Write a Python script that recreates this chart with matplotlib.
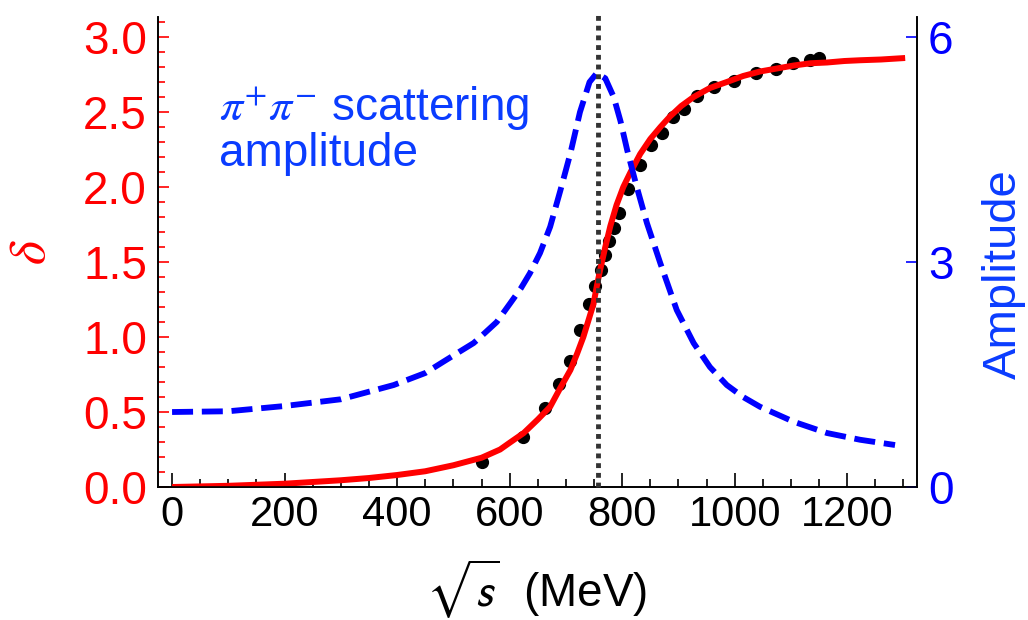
import numpy as np
import matplotlib.pyplot as plt
from matplotlib.ticker import MultipleLocator, FormatStrFormatter

plt.rcParams['font.family'] = ['Liberation Sans', 'DejaVu Sans']
plt.rcParams['mathtext.fontset'] = 'stix'

# fase delta (curva roja)
e_fit = [0, 100, 200, 300, 350, 400, 450, 500, 550, 583, 600, 625, 650, 672, 690, 708,
         720, 731, 740, 749, 755, 761, 770, 779, 790, 802, 815, 832, 850, 868, 885,
         905, 927, 956, 986, 1015, 1045, 1075, 1105, 1135, 1164, 1195, 1223, 1260, 1303]
delta_fit = [0.0, 0.008, 0.022, 0.045, 0.06, 0.08, 0.105, 0.145, 0.195, 0.25, 0.295,
             0.36, 0.45, 0.535, 0.66, 0.78, 0.89, 1.00, 1.11, 1.22, 1.34, 1.45, 1.60,
             1.74, 1.88, 2.00, 2.10, 2.22, 2.32, 2.40, 2.47, 2.54, 2.60, 2.66, 2.70,
             2.74, 2.77, 2.79, 2.81, 2.825, 2.83, 2.84, 2.845, 2.85, 2.86]

# datos experimentales
e_data = [551, 624, 663, 687, 708, 725, 741, 752, 762, 769, 777, 786, 794, 811, 832,
          852, 871, 891, 910, 933, 963, 998, 1038, 1073, 1103, 1133, 1149]
delta_data = [0.17, 0.335, 0.53, 0.69, 0.84, 1.05, 1.22, 1.34, 1.45, 1.55, 1.64, 1.73,
              1.83, 1.99, 2.15, 2.28, 2.36, 2.47, 2.52, 2.61, 2.67, 2.71, 2.76, 2.79,
              2.83, 2.85, 2.86]

# amplitud (curva azul)
e_amp = [0, 100, 200, 300, 394, 450, 482, 510, 536, 548, 577, 601, 620, 636, 654, 672,
         690, 708, 725, 742, 755, 770, 785, 797, 809, 826, 844, 868, 897, 927, 956, 986,
         1015, 1045, 1105, 1164, 1223, 1285]
amp = [1.00, 1.01, 1.08, 1.17, 1.36, 1.52, 1.67, 1.80, 1.92, 2.00, 2.20, 2.45, 2.65,
       2.85, 3.12, 3.47, 3.95, 4.45, 5.00, 5.40, 5.52, 5.45, 5.20, 4.88, 4.49, 4.00,
       3.52, 2.98, 2.36, 1.92, 1.60, 1.36, 1.20, 1.07, 0.87, 0.72, 0.63, 0.56]

m_peak = 757

red = '#ff0000'
blue = '#0000ff'
txt_blue = '#0a3cff'

fig = plt.figure(figsize=(10.28, 6.2), dpi=100)
ax = fig.add_axes([0.1537, 0.2145, 0.7383, 0.758])
ax2 = ax.twinx()

ax.plot(e_data, delta_data, 'o', color='black', markersize=8.5, zorder=2)
ax.plot(e_fit, delta_fit, color=red, linewidth=4.3, solid_capstyle='butt', zorder=3)

ax2.plot(e_amp, amp, color=blue, linewidth=4.2, dashes=(3.6, 1.5), zorder=2)
ax2.plot([m_peak, m_peak], [0, 6.35], color='#333333', linewidth=3.5,
         linestyle=(0, (1, 1)), zorder=3, clip_on=False)

ax.set_xlim(-25, 1324)
ax.set_ylim(0, 3.133)
ax2.set_ylim(0, 6.267)

ax.xaxis.set_major_locator(MultipleLocator(200))
ax.xaxis.set_minor_locator(MultipleLocator(50))
ax.yaxis.set_major_locator(MultipleLocator(0.5))
ax.yaxis.set_minor_locator(MultipleLocator(0.1))
ax.yaxis.set_major_formatter(FormatStrFormatter('%.1f'))
ax2.set_yticks([0, 3, 6])

ax.tick_params(axis='x', which='major', direction='in', length=10, width=1.2,
               color='black', labelsize=30, pad=6)
ax.tick_params(axis='x', which='minor', direction='in', length=6, width=1.2, color='black')
ax.tick_params(axis='y', which='major', direction='in', length=8, width=1.2,
               color=red, labelcolor=red, labelsize=33, pad=8)
ax.tick_params(axis='y', which='minor', direction='in', length=5, width=1.2, color=red)
ax2.tick_params(axis='y', which='major', direction='in', length=8, width=1.2,
                color=blue, labelcolor=blue, labelsize=33, pad=8)

for a in (ax, ax2):
    a.spines['top'].set_visible(False)
    for s in ('left', 'right', 'bottom'):
        a.spines[s].set_color('black')
        a.spines[s].set_linewidth(1.2)

fig.text(0.5225, 0.05, r'$\sqrt{s}$  (MeV)', fontsize=33, ha='center', va='center',
         math_fontfamily='stixsans')
fig.text(0.031, 0.593, r'$\delta$', fontsize=37, color=red, rotation=90,
         ha='center', va='center')
fig.text(0.977, 0.558, 'Amplitude', fontsize=34, color=txt_blue, rotation=90,
         ha='center', va='center')
fig.text(0.213, 0.865, r'$\pi^{+}\pi^{-}$ scattering' + '\namplitude', fontsize=33,
         color=txt_blue, ha='left', va='top', linespacing=1.0)

fig.savefig('out.png', dpi=100)
